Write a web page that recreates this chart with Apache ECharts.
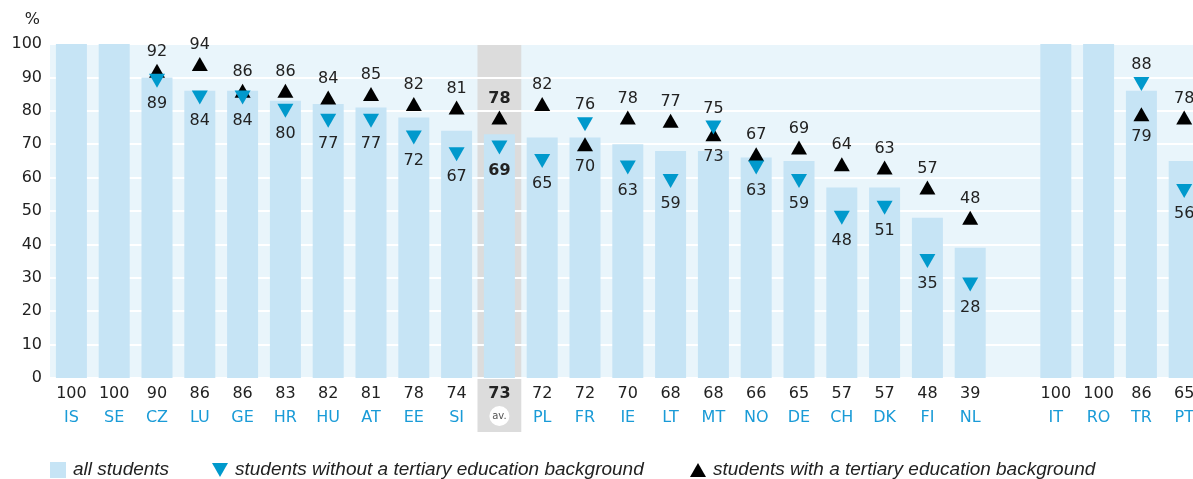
<!DOCTYPE html>
<html><head><meta charset="utf-8">
<script src="https://cdn.jsdelivr.net/npm/echarts@6/dist/echarts.min.js"></script>
<style>html,body{margin:0;padding:0;background:#fff}#c{width:1193px;height:479px}</style>
</head><body><div id="c"></div>
<script>
const categories = ['IS','SE','CZ','LU','GE','HR','HU','AT','EE','SI','av.','PL','FR','IE','LT','MT','NO','DE','CH','DK','FI','NL','','IT','RO','TR','PT'];
const allStudents = [100,100,90,86,86,83,82,81,78,74,73,72,72,70,68,68,66,65,57,57,48,39,null,100,100,86,65];
const withoutTertiary = [null,null,89,84,84,80,77,77,72,67,69,65,76,63,59,75,63,59,48,51,35,28,null,null,null,88,56];
const withTertiary = [null,null,92,94,86,86,84,85,82,81,78,82,70,78,77,73,67,69,64,63,57,48,null,null,null,79,78];
const yTickValues = [0,10,20,30,40,50,60,70,80,90,100];

const NAME_ALL = 'all students';
const NAME_WO = 'students without a tertiary education background';
const NAME_W = 'students with a tertiary education background';
const AV = categories.indexOf('av.');
const FONT = 'DejaVu Sans';
const DOWN = 'path://M0,0L16,0L8,14Z';

function markerData(own, other) {
  return own.map((v, i) => {
    if (v == null) return '-';
    const above = other[i] == null || v >= other[i];
    return {
      value: v,
      label: { offset: [0, above ? -19 : 23], fontWeight: i === AV ? 'bold' : 'normal' }
    };
  });
}

const chart = echarts.init(document.getElementById('c'));
const labelStyle = { show: true, position: 'inside', fontFamily: FONT, fontSize: 16, color: '#222',
  formatter: p => p.value };
const legendText = { fontFamily: 'Liberation Sans', fontStyle: 'italic', fontSize: 19, lineHeight: 20, color: '#222', padding: [0,0,0,2] };

chart.setOption({
  animation: false,
  grid: { left: 50, top: 44, width: categories.length * 42.8, bottom: 101, show: false,
          containLabel: false, outerBoundsMode: 'none' },
  xAxis: {
    type: 'category', data: categories,
    axisLine: { show: false }, axisTick: { show: false },
    axisLabel: {
      interval: 0, margin: 4,
      formatter: (val, idx) => {
        if (val === '') return '';
        if (idx === AV) return '{vb|' + allStudents[idx] + '}\n{av|av.}';
        return '{v|' + allStudents[idx] + '}\n{c|' + val + '}';
      },
      rich: {
        v: { fontFamily: FONT, fontSize: 16, color: '#222', lineHeight: 24 },
        vb: { fontFamily: FONT, fontSize: 16, color: '#222', fontWeight: 'bold', lineHeight: 24 },
        c: { fontFamily: FONT, fontSize: 16, color: '#1a9bd7', lineHeight: 24 },
        av: { fontFamily: FONT, fontSize: 10, color: '#555', backgroundColor: '#fff',
              width: 20, height: 20, lineHeight: 20, borderRadius: 10, align: 'center' }
      }
    }
  },
  yAxis: {
    type: 'value', min: yTickValues[0], max: yTickValues[yTickValues.length - 1], interval: 10,
    name: '%', nameLocation: 'end', nameGap: 16,
    nameTextStyle: { fontFamily: FONT, fontSize: 16, color: '#222', align: 'right', padding: [0, 10, 0, 0] },
    axisLine: { show: false }, axisTick: { show: false },
    axisLabel: { fontFamily: FONT, fontSize: 16, color: '#222', margin: 8 },
    splitLine: { lineStyle: { color: '#ffffff', width: 2 } }
  },
  legend: [
    { left: 50, top: 460, padding: 0, itemWidth: 16, itemHeight: 16, selectedMode: false,
      data: [{ name: NAME_ALL, icon: 'rect' }], textStyle: legendText },
    { left: 212, top: 460, padding: 0, itemWidth: 16, itemHeight: 14, selectedMode: false,
      data: [{ name: NAME_WO, icon: DOWN }], textStyle: legendText },
    { left: 690, top: 460, padding: 0, itemWidth: 16, itemHeight: 14, selectedMode: false,
      data: [{ name: NAME_W, icon: 'triangle' }], textStyle: legendText }
  ],
  series: [
    { name: NAME_ALL, type: 'bar', data: allStudents, barWidth: 31,
      itemStyle: { color: '#c6e4f5' } },
    { name: NAME_W, type: 'scatter', data: markerData(withTertiary, withoutTertiary),
      symbol: 'triangle', symbolSize: [16, 14], itemStyle: { color: '#000', opacity: 1 },
      label: labelStyle, z: 3 },
    { name: NAME_WO, type: 'scatter', data: markerData(withoutTertiary, withTertiary),
      symbol: DOWN, symbolSize: [16, 14], itemStyle: { color: '#0099cc', opacity: 1 },
      label: labelStyle, z: 4 }
  ]
});

const step = chart.convertToPixel({ xAxisIndex: 0 }, 1) - chart.convertToPixel({ xAxisIndex: 0 }, 0);
const xFirst = chart.convertToPixel({ xAxisIndex: 0 }, 0) - step / 2;
const xLast = chart.convertToPixel({ xAxisIndex: 0 }, categories.length - 1) + step / 2;
const xAv = chart.convertToPixel({ xAxisIndex: 0 }, AV);
const yTop = chart.convertToPixel({ yAxisIndex: 0 }, 100);
const yBot = chart.convertToPixel({ yAxisIndex: 0 }, 0);
chart.setOption({
  graphic: [
    { type: 'rect', z: -10, silent: true,
      shape: { x: xFirst, y: yTop, width: xLast - xFirst, height: yBot - yTop },
      style: { fill: '#e9f5fb' } },
    { type: 'rect', z: -9, silent: true,
      shape: { x: xAv - step / 2 - 0.5, y: yTop, width: step + 1, height: yBot - yTop + 54 },
      style: { fill: '#dcdcdc' } }
  ]
});
</script></body></html>
